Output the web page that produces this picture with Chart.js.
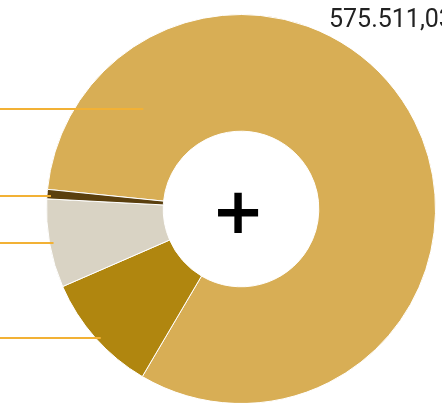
<!DOCTYPE html>
<html>
<head>
<meta charset="utf-8">
<script src="https://cdn.jsdelivr.net/npm/chart.js@4/dist/chart.umd.min.js"></script>
<style>
  html, body { margin: 0; padding: 0; background: #fff; overflow: hidden; }
  #wrap { position: relative; width: 442px; height: 420px; }
</style>
</head>
<body>
<div id="wrap"><canvas id="grafico"></canvas></div>
<script>
// Datos del gráfico
const categorias = ['Segmento A', 'Segmento B', 'Segmento C', 'Segmento D'];
const valores = [575511.03, 70300, 51750, 5480];
const colores = ['#D8AE55', '#B0860F', '#D9D3C4', '#5A3F0E'];
const etiquetaValor = '575.511,03';

// Líneas guía hacia las etiquetas (fuera del recorte, a la izquierda)
const colorLinea = '#F2B135';

const lineasGuia = {
    id: 'lineasGuia',
    afterDatasetsDraw(chart) {
        const ctx = chart.ctx;
        const arcos = chart.getDatasetMeta(0).data;
        // fracción del ángulo de cada segmento donde termina la línea
        const fracciones = [0.135, 0.47, 0.5, 0.35];
        ctx.save();
        ctx.strokeStyle = colorLinea;
        ctx.lineWidth = 2;
        arcos.forEach(function(arco, i) {
            const p = arco.getProps(['x', 'y', 'startAngle', 'endAngle', 'innerRadius', 'outerRadius'], true);
            const ang = p.startAngle + (p.endAngle - p.startAngle) * fracciones[i];
            let r;
            if (i === 0) {
                r = p.innerRadius + (p.outerRadius - p.innerRadius) * 0.53;
            } else {
                r = p.outerRadius - 4;
            }
            const x = p.x + Math.cos(ang) * r;
            const y = Math.round(p.y + Math.sin(ang) * r);
            ctx.beginPath();
            ctx.moveTo(0, y);
            ctx.lineTo(x, y);
            ctx.stroke();
        });
        ctx.restore();
    }
};

const centro = {
    id: 'centro',
    afterDraw(chart) {
        const ctx = chart.ctx;
        const arco = chart.getDatasetMeta(0).data[0];
        ctx.save();
        ctx.fillStyle = '#000';
        ctx.textAlign = 'center';
        ctx.textBaseline = 'middle';
        ctx.font = 'bold 64px "DejaVu Sans"';
        ctx.fillText('+', arco.x - 3, arco.y + 7);
        ctx.fillStyle = '#222';
        ctx.textAlign = 'left';
        ctx.textBaseline = 'alphabetic';
        ctx.font = '25px Roboto';
        ctx.fillText(etiquetaValor, 329, 27);
        ctx.restore();
    }
};

new Chart(document.getElementById('grafico'), {
    type: 'doughnut',
    data: {
        labels: categorias,
        datasets: [{
            data: valores,
            backgroundColor: colores,
            borderColor: '#ffffff',
            borderWidth: 1
        }]
    },
    options: {
        responsive: true,
        maintainAspectRatio: false,
        animation: false,
        cutout: '40%',
        rotation: 275.8,
        layout: { padding: { top: 14, bottom: 16, left: 46, right: 6 } },
        plugins: {
            legend: { display: false },
            tooltip: { enabled: false }
        }
    },
    plugins: [lineasGuia, centro]
});
</script>
</body>
</html>
